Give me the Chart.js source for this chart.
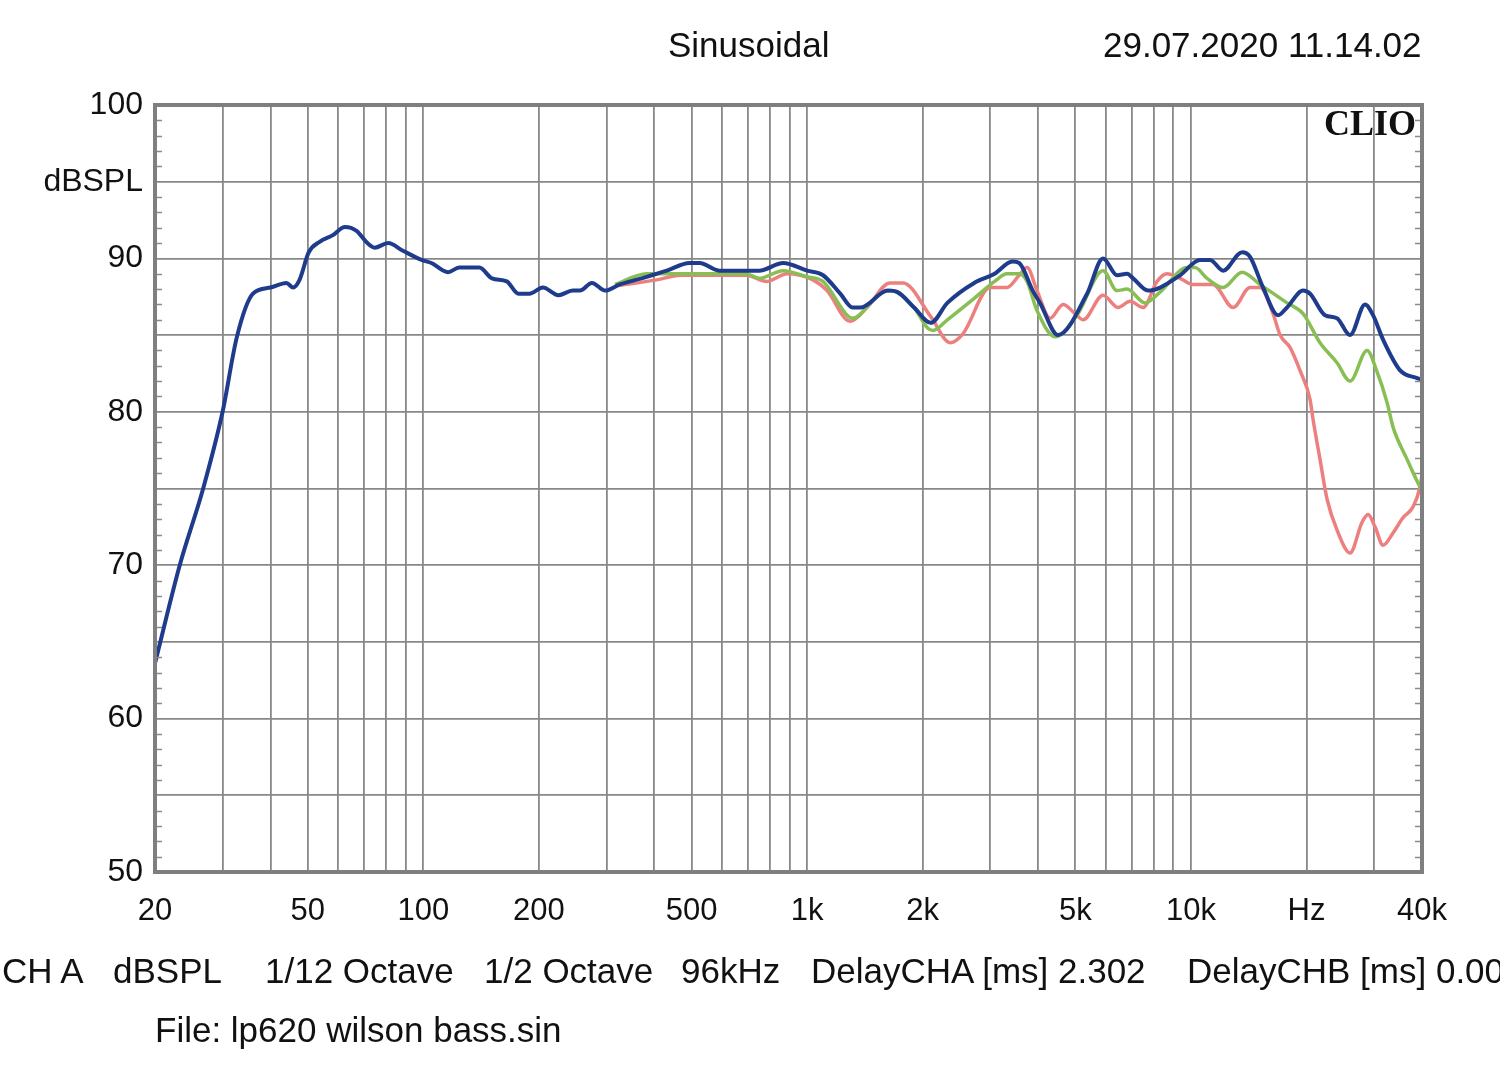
<!DOCTYPE html>
<html>
<head>
<meta charset="utf-8">
<script src="https://cdn.jsdelivr.net/npm/chart.js@4.4.1/dist/chart.umd.min.js"></script>
<style>
  html, body { margin:0; padding:0; background:#fff; }
  #wrap { position:relative; width:1500px; height:1074px; overflow:hidden; font-family:"Liberation Sans", Arial, sans-serif; color:#111; }
  #wrap canvas { position:absolute; left:0; top:0; }
  .t { position:absolute; white-space:nowrap; font-size:35px; line-height:40px; }
</style>
</head>
<body>
<div id="wrap">
  <canvas id="c" width="1500" height="1074"></canvas>
  <div class="t" style="left:668px; top:25px;">Sinusoidal</div>
  <div class="t" style="left:1103px; top:25px;">29.07.2020 11.14.02</div>
  <div class="t" style="left:2px; top:951px;">CH A</div>
  <div class="t" style="left:113px; top:951px;">dBSPL</div>
  <div class="t" style="left:265px; top:951px;">1/12 Octave</div>
  <div class="t" style="left:484px; top:951px;">1/2 Octave</div>
  <div class="t" style="left:681px; top:951px;">96kHz</div>
  <div class="t" style="left:811px; top:951px;">DelayCHA [ms] 2.302</div>
  <div class="t" style="left:1187px; top:951px;">DelayCHB [ms] 0.000</div>
  <div class="t" style="left:155px; top:1010px;">File: lp620 wilson bass.sin</div>
  <div style="position:absolute; left:1324px; top:103px; font-family:'Liberation Serif', 'DejaVu Serif', serif; font-weight:bold; font-size:36px; line-height:40px; color:#111;">CLIO</div>
</div>
<script>
// ---- Data ----
const blueFreq = [20,23.2,26.7,30,32.7,36,40,44,45.8,47.6,50.3,53.8,58,62.5,67,71.5,74.7,81,88.5,99,105,116,124,140,151,165,177,189,205,225,245,256,275,298,325,382,431,494,525,590,694,750,866,1000,1100,1220,1313,1380,1623,1720,1900,2100,2320,2725,3080,3425,3570,3870,4044,4506,5364,5902,6420,6820,7068,7732,8310,9370,10566,11220,12128,13594,14258,15418,16868,17802,19594,20436,22354,24020,25980,28420,29820,31670,35070,38840,40000];
const blueDb   = [63.6,70.0,75.0,80.0,84.9,87.7,88.1,88.4,88.1,88.6,90.4,91.1,91.5,92.05,91.8,91.0,90.7,91.0,90.5,89.9,89.7,89.1,89.4,89.4,88.7,88.5,87.7,87.7,88.1,87.6,87.9,87.9,88.4,87.9,88.3,88.8,89.2,89.7,89.7,89.2,89.2,89.2,89.7,89.2,88.9,87.7,86.8,86.8,87.9,87.8,86.8,85.8,87.1,88.4,89.0,89.8,89.7,87.9,87.1,85.0,87.7,90.0,88.9,89.0,88.7,87.9,88.1,88.9,89.9,89.9,89.2,90.4,90.1,88.1,86.3,86.8,87.9,87.7,86.3,86.1,85.0,87.0,86.3,84.7,82.7,82.2,82.1];

const greenFreq = [316,382,494,694,750,866,1000,1100,1271,1313,1549,1650,1900,2054,2129,2320,2725,3080,3318,3570,3742,3972,4426,5050,5902,6420,6820,7594,8310,9772,10254,11016,12128,13594,15140,17802,19594,21696,24020,25980,28772,30550,32440,33620,36574,39540,40000];
const greenDb   = [88.3,89.0,89.0,89.0,88.7,89.2,88.8,88.5,86.3,86.1,87.7,87.9,86.8,85.5,85.3,86.0,87.4,88.5,89.0,89.0,88.5,86.6,84.9,86.3,89.2,87.9,88.0,87.1,87.8,89.4,89.4,88.7,88.1,89.1,88.3,87.1,86.4,84.5,83.2,82.0,84.0,82.6,80.6,79.0,76.9,75.1,74.9];

const redFreq = [316,406,467,694,786,887,1036,1127,1294,1433,1644,1778,2100,2358,2549,2996,3318,3570,3742,3972,4296,4644,4990,5236,5902,6458,6940,7504,8162,8668,9370,10128,11420,12878,14258,15140,16368,17074,18120,19238,20436,20808,21696,22634,24020,25980,27920,28940,30180,31670,33620,35700,37900,39540,40000];
const redDb   = [88.2,88.6,88.9,88.9,88.5,89.0,88.6,87.9,85.9,86.8,88.4,88.4,86.2,84.5,85.1,88.1,88.1,88.9,89.4,87.9,86.1,87.0,86.4,86.0,87.6,86.8,87.2,86.8,88.5,89.0,88.7,88.3,88.3,86.8,88.1,88.1,86.4,85.0,84.2,82.7,80.8,79.5,76.9,74.3,72.3,70.8,72.8,73.3,72.5,71.3,72.1,73.1,73.8,75.1,75.9];

const xGridFreqs = [20,30,40,50,60,70,80,90,100,200,300,400,500,600,700,800,900,1000,2000,3000,4000,5000,6000,7000,8000,9000,10000,20000,30000,40000];
const xTickValues = [20,50,100,200,500,1000,2000,5000,10000,20000,40000];
const xTickLabels = ['20','50','100','200','500','1k','2k','5k','10k','Hz','40k'];
const yTickValues = [100,95,90,80,70,60,50];
const yTickLabels = ['100','dBSPL','90','80','70','60','50'];

const pts = (fs, ds) => fs.map((f, i) => ({x: f, y: ds[i]}));

const minorTicks = {
  id: 'minorTicks',
  afterDatasetsDraw(chart) {
    const {ctx, chartArea: a, scales: {y}} = chart;
    ctx.save();
    ctx.strokeStyle = '#8a8a8a';
    ctx.lineWidth = 1.5;
    for (let v = 51; v < 100; v++) {
      if (v % 5 === 0) continue;
      const py = Math.round(y.getPixelForValue(v)) + 0.5;
      ctx.beginPath();
      ctx.moveTo(a.left, py); ctx.lineTo(a.left + 7, py);
      ctx.moveTo(a.right, py); ctx.lineTo(a.right - 7, py);
      ctx.stroke();
    }
    ctx.restore();
  }
};

const frame = {
  id: 'frame',
  afterDraw(chart) {
    const {ctx, chartArea: a} = chart;
    ctx.save();
    ctx.strokeStyle = '#7f7f7f';
    ctx.lineWidth = 4;
    ctx.strokeRect(a.left, a.top, a.right - a.left, a.bottom - a.top);
    ctx.restore();
  }
};

new Chart(document.getElementById('c'), {
  type: 'scatter',
  data: {
    datasets: [
      { label: 'C', data: pts(blueFreq, blueDb), borderColor: '#1f3c8c', borderWidth: 4 },
      { label: 'B', data: pts(greenFreq, greenDb), borderColor: '#88bf55', borderWidth: 3.5 },
      { label: 'A', data: pts(redFreq, redDb), borderColor: '#ee7f7f', borderWidth: 3.5 }
    ].map(d => Object.assign(d, { showLine: true, pointRadius: 0, cubicInterpolationMode: 'monotone', fill: false }))
  },
  options: {
    responsive: false,
    animation: false,
    events: [],
    layout: { padding: { left: 0, right: 78, top: 105, bottom: 0 } },
    plugins: { legend: { display: false }, tooltip: { enabled: false } },
    scales: {
      x: {
        type: 'logarithmic', min: 20, max: 40000,
        afterBuildTicks: s => { s.ticks = xGridFreqs.map(v => ({value: v})); },
        afterFit: s => { s.height = 202; },
        grid: { color: '#888888', lineWidth: 1.8, drawTicks: false },
        border: { display: false },
        ticks: {
          autoSkip: false, maxRotation: 0, padding: 21, color: '#111',
          font: { family: 'Liberation Sans, Arial, sans-serif', size: 31 },
          callback: v => { const i = xTickValues.indexOf(v); return i >= 0 ? xTickLabels[i] : ''; }
        }
      },
      y: {
        type: 'linear', min: 50, max: 100,
        afterBuildTicks: s => { const t = []; for (let v = 50; v <= 100; v += 5) t.push({value: v}); s.ticks = t; },
        afterFit: s => { s.width = 155; },
        grid: { color: '#888888', lineWidth: 1.8, drawTicks: false },
        border: { display: false },
        ticks: {
          autoSkip: false, padding: 12, color: '#111',
          font: { family: 'Liberation Sans, Arial, sans-serif', size: 32, lineHeight: 1.1 },
          callback: v => { const i = yTickValues.indexOf(v); return i >= 0 ? yTickLabels[i] : ''; }
        }
      }
    }
  },
  plugins: [minorTicks, frame]
});
</script>
</body>
</html>
